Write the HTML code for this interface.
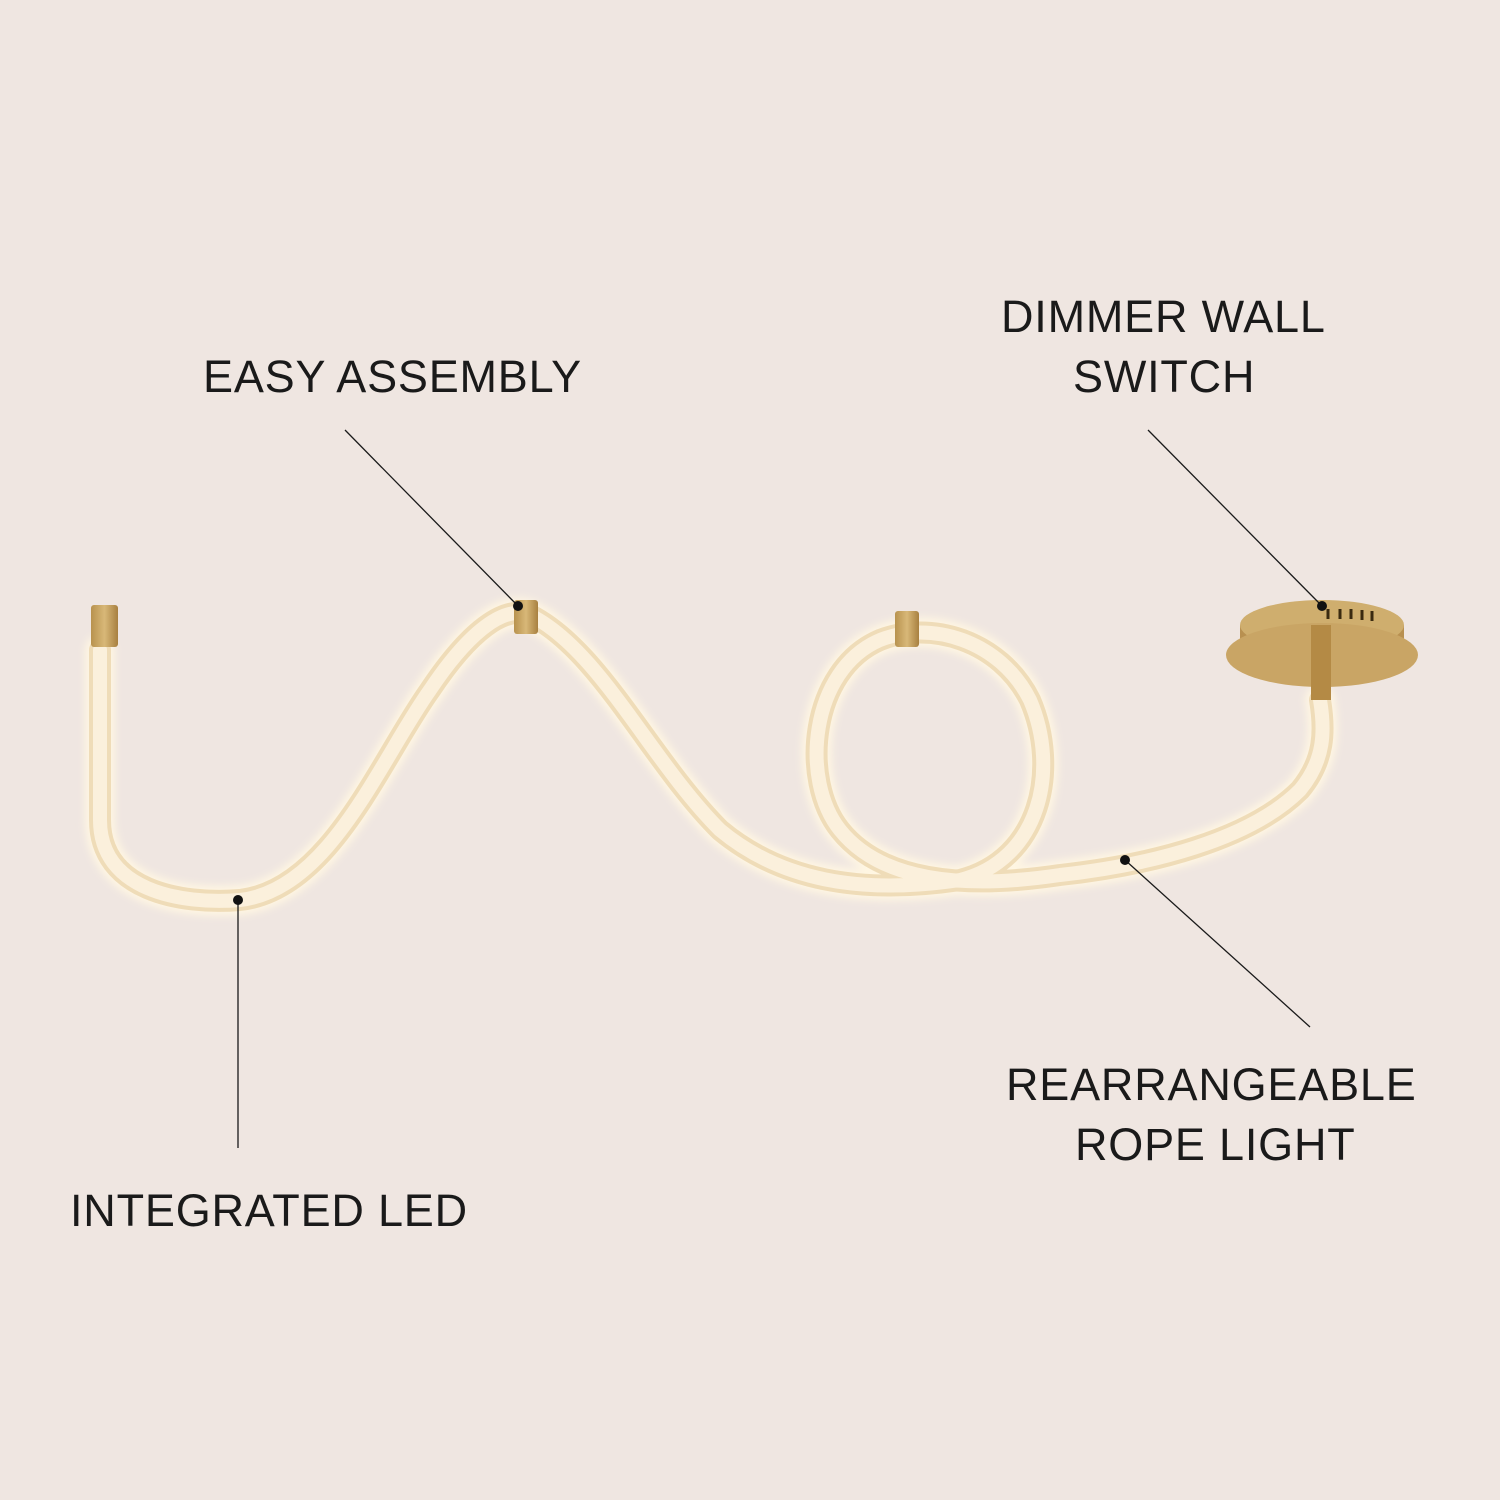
<!DOCTYPE html>
<html><head><style>
html,body{margin:0;padding:0;background:#efe6e1;}
svg{display:block}
text{font-family:"Liberation Sans",sans-serif;font-size:45px;fill:#1a1a1a;letter-spacing:0.8px}
</style></head><body>
<svg width="1500" height="1500" viewBox="0 0 1500 1500">
<defs>
<filter id="g" x="-20%" y="-20%" width="140%" height="140%"><feGaussianBlur stdDeviation="4"/></filter>
<linearGradient id="br" x1="0" y1="0" x2="1" y2="0"><stop offset="0" stop-color="#b8924e"/><stop offset="0.5" stop-color="#d8b878"/><stop offset="1" stop-color="#a88040"/></linearGradient>
<path id="rope" d="M100,650 L100,820 C100,890 180,905 240,900 C330,890 380,760 430,690 C470,630 505,605 530,615 C600,650 650,760 720,830 C780,880 860,895 960,880 C1040,860 1060,770 1030,700 C1000,640 930,620 880,640 C810,670 800,780 840,830 C880,880 960,890 1060,875 C1150,865 1250,840 1300,790 C1325,760 1325,730 1320,700"/>
</defs>
<rect width="1500" height="1500" fill="#efe6e1"/>
<g fill="none" stroke-linecap="round">
<use href="#rope" stroke="#fff6e2" stroke-width="30" filter="url(#g)"/>
<use href="#rope" stroke="#efdcb8" stroke-width="22"/>
<use href="#rope" stroke="#fbf0dc" stroke-width="14"/>
</g>
<rect x="91" y="605" width="27" height="42" rx="3" fill="url(#br)"/>
<rect x="514" y="600" width="24" height="34" rx="3" fill="url(#br)"/>
<rect x="895" y="611" width="24" height="36" rx="3" fill="url(#br)"/>
<path d="M1240,625 L1240,650 A82,26 0 0 0 1404,650 L1404,625 Z" fill="#b89050"/>
<ellipse cx="1322" cy="625" rx="82" ry="25" fill="#cfae6e"/>
<ellipse cx="1322" cy="655" rx="96" ry="32" fill="#c9a565"/>
<rect x="1311" y="625" width="20" height="75" fill="#b48a45"/>
<g stroke="#3a2a10" stroke-width="3"><line x1="1328" y1="609" x2="1328" y2="619"/><line x1="1340" y1="609" x2="1340" y2="619"/><line x1="1351" y1="609" x2="1351" y2="619"/><line x1="1362" y1="610" x2="1362" y2="620"/><line x1="1372" y1="611" x2="1372" y2="621"/></g>
<g stroke="#1a1a1a" stroke-width="1.3">
<line x1="345" y1="430" x2="518" y2="606"/>
<line x1="1148" y1="430" x2="1322" y2="606"/>
<line x1="238" y1="900" x2="238" y2="1148"/>
<line x1="1125" y1="860" x2="1310" y2="1027"/>
</g>
<g fill="#111"><circle cx="518" cy="606" r="5"/><circle cx="1322" cy="606" r="5"/><circle cx="238" cy="900" r="5"/><circle cx="1125" cy="860" r="5"/></g>
<text x="203" y="392">EASY ASSEMBLY</text>
<text x="1001" y="332">DIMMER WALL</text>
<text x="1073" y="392">SWITCH</text>
<text x="70" y="1226">INTEGRATED LED</text>
<text x="1006" y="1100">REARRANGEABLE</text>
<text x="1075" y="1160">ROPE LIGHT</text>
</svg>
</body></html>
